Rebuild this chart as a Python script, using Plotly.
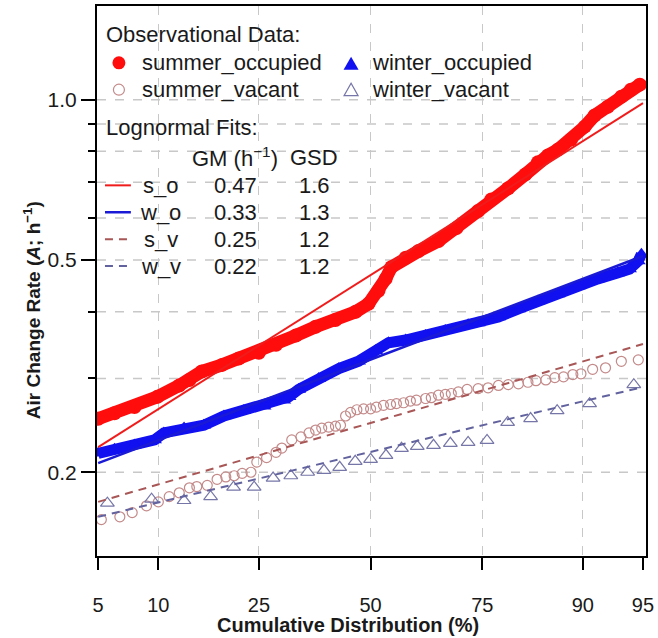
import math
import plotly.graph_objects as go
from statistics import NormalDist

# ---------------- data ----------------
tick_pct = [5, 10, 25, 50, 75, 90, 95]
grid_pct = [10, 25, 50, 75, 90]
y_major = [0.2, 0.5, 1.0]
y_major_text = ["0.2", "0.5", "1.0"]
y_minor = [0.3, 0.4, 0.6, 0.7, 0.8, 0.9]

so_pct = [5.0, 6.1, 7.7, 9.9, 12.4, 13.7, 15.4, 18.5, 21.3, 25.0, 28.4, 32.6, 37.0, 41.6,
          46.4, 49.5, 51.9, 53.6, 55.0, 58.4, 61.4, 65.9, 69.8, 74.2, 76.7, 79.7, 82.5,
          84.4, 85.8, 87.1, 88.7, 90.2, 91.2, 92.4, 93.5, 94.2, 94.8]
so_val = [0.252, 0.258, 0.265, 0.277, 0.291, 0.298, 0.309, 0.318, 0.327, 0.335, 0.347,
          0.361, 0.375, 0.386, 0.400, 0.414, 0.438, 0.461, 0.485, 0.505, 0.520, 0.543,
          0.574, 0.618, 0.650, 0.682, 0.724, 0.763, 0.786, 0.806, 0.842, 0.890, 0.934,
          0.970, 1.013, 1.044, 1.067]

wo_pct = [5.0, 6.1, 7.7, 9.6, 10.6, 13.0, 15.7, 18.8, 22.2, 26.0, 30.0, 31.1, 33.2, 37.7,
          42.4, 47.1, 51.2, 54.3, 58.4, 63.0, 67.4, 72.2, 74.2, 78.0, 81.4, 84.4, 87.1,
          89.5, 91.5, 93.2, 94.1, 94.7, 94.9]
wo_val = [0.217, 0.221, 0.225, 0.230, 0.237, 0.242, 0.245, 0.255, 0.261, 0.266, 0.273,
          0.277, 0.286, 0.300, 0.313, 0.323, 0.338, 0.350, 0.354, 0.361, 0.369, 0.378,
          0.381, 0.391, 0.405, 0.419, 0.432, 0.447, 0.461, 0.473, 0.481, 0.498, 0.513]

sv_pct = [5.2, 6.5, 7.5, 8.8, 10.0, 11.2, 12.4, 13.7, 14.7, 16.2, 17.7, 19.1, 20.5, 21.9,
          23.5, 24.6, 26.5, 28.4, 29.6, 31.7, 33.7, 35.5, 37.0, 38.4, 40.0, 41.6, 42.8,
          44.0, 45.2, 46.7, 48.3, 50.0, 51.4, 53.1, 54.8, 56.2, 57.9, 59.5, 60.9, 63.0,
          64.3, 65.9, 67.4, 68.7, 70.2, 72.0, 74.2, 76.1, 78.0, 79.7, 81.4, 82.9, 84.1,
          85.5, 86.7, 87.8, 88.9, 89.8, 91.0, 92.2, 93.5, 94.7]
sv_val = [0.163, 0.165, 0.168, 0.173, 0.176, 0.180, 0.183, 0.187, 0.188, 0.189, 0.194,
          0.196, 0.197, 0.199, 0.200, 0.209, 0.213, 0.218, 0.222, 0.230, 0.233, 0.237,
          0.240, 0.242, 0.243, 0.244, 0.245, 0.255, 0.259, 0.262, 0.263, 0.263, 0.265,
          0.267, 0.268, 0.269, 0.270, 0.272, 0.273, 0.275, 0.276, 0.279, 0.280, 0.281,
          0.283, 0.286, 0.287, 0.288, 0.291, 0.292, 0.293, 0.295, 0.297, 0.298, 0.301,
          0.302, 0.305, 0.306, 0.312, 0.314, 0.323, 0.325]

wv_pct = [5.6, 9.3, 13.0, 16.7, 20.4, 24.1, 27.8, 31.5, 35.2, 38.9, 42.6, 46.3, 50.0,
          53.7, 57.4, 61.1, 64.8, 68.5, 72.2, 75.9, 79.6, 83.3, 87.0, 90.7, 94.4]
wv_val = [0.175, 0.178, 0.177, 0.180, 0.1875, 0.1875, 0.195, 0.197, 0.200, 0.2017, 0.2043,
          0.2097, 0.2115, 0.2152, 0.2218, 0.2237, 0.2247, 0.2266, 0.2275, 0.2295, 0.248,
          0.2522, 0.261, 0.269, 0.292]

fit_pct = [5, 95]
fit_so = [0.223, 0.985]
fit_wo = [0.208, 0.509]
fit_sv = [0.176, 0.348]
fit_wv = [0.165, 0.289]

fit_names = ["s_o", "w_o", "s_v", "w_v"]
fit_gm = ["0.47", "0.33", "0.25", "0.22"]
fit_gsd = ["1.6", "1.3", "1.2", "1.2"]

# ---------------- styling ----------------
C_SO = "#ff0d0d"
C_WO = "#1010f0"
C_SV = "#c48a8a"
C_WV = "#7676a8"
C_FSO = "#f01c1c"
C_FWO = "#1a1ad6"
C_FSV = "#a85656"
C_FWV = "#62629e"
TXT = "#1a1a1a"
FONT = "Arial"
DASH = "8px,6px"
GRID = "#c8c8c8"

_nd = NormalDist()


def zq(p):
    """probability-scale transform of a cumulative percentage"""
    return _nd.inv_cdf(p / 100.0)


def lg(v):
    """log10 transform for the logarithmic value axis"""
    return math.log10(v)


W, H = 658, 638
L, R, T, B = 97, 10, 4, 82
PW = W - L - R
PH = H - T - B


def px(xp):
    return (xp - L) / PW


def py(yp):
    return (H - B - yp) / PH


fig = go.Figure()

fig.add_trace(go.Scatter(x=[zq(p) for p in so_pct], y=[lg(v) for v in so_val],
                         mode="lines+markers", line=dict(color=C_SO, width=13),
                         marker=dict(symbol="circle", size=14, color=C_SO),
                         name="summer_occupied", showlegend=False))
fig.add_trace(go.Scatter(x=[zq(p) for p in wo_pct], y=[lg(v) for v in wo_val],
                         mode="lines+markers", line=dict(color=C_WO, width=11),
                         marker=dict(symbol="triangle-up", size=13, color=C_WO),
                         name="winter_occupied", showlegend=False))
fig.add_trace(go.Scatter(x=[zq(p) for p in sv_pct], y=[lg(v) for v in sv_val],
                         mode="markers",
                         marker=dict(symbol="circle-open", size=10, color=C_SV,
                                     line=dict(width=1.2, color=C_SV)),
                         name="summer_vacant", showlegend=False))
fig.add_trace(go.Scatter(x=[zq(p) for p in wv_pct], y=[lg(v) for v in wv_val],
                         mode="markers",
                         marker=dict(symbol="triangle-up-open", size=12, color=C_WV,
                                     line=dict(width=1.2, color=C_WV)),
                         name="winter_vacant", showlegend=False))

for vals, col, dash, wid, nm in [(fit_so, C_FSO, "solid", 2, "s_o"),
                                 (fit_wo, C_FWO, "solid", 2.5, "w_o"),
                                 (fit_sv, C_FSV, DASH, 2, "s_v"),
                                 (fit_wv, C_FWV, DASH, 2, "w_v")]:
    fig.add_trace(go.Scatter(x=[zq(p) for p in fit_pct], y=[lg(v) for v in vals],
                             mode="lines", line=dict(color=col, width=wid, dash=dash),
                             name=nm, showlegend=False))

# ---------------- legend (annotations + glyph shapes) ----------------
ann = []


def text(t, x, y, anchor="left", size=22):
    ann.append(dict(x=px(x), y=py(y), xref="paper", yref="paper", text=t, showarrow=False,
                    xanchor=anchor, yanchor="middle",
                    font=dict(family=FONT, size=size, color=TXT)))


text("Observational Data:", 104, 33)
text("summer_occupied", 140, 61)
text("summer_vacant", 140, 88)
text("winter_occupied", 371, 61)
text("winter_vacant", 371, 88)
text("Lognormal Fits:", 104, 126)
text("GM (h<sup>−1</sup>)", 236, 156, "center")
text("GSD", 315, 156, "center")
row_y = [184, 211, 238, 265]
for nm, gm, gsd, yy in zip(fit_names, fit_gm, fit_gsd, row_y):
    text(nm, 161, yy, "center")
    text(gm, 236, yy, "center")
    text(gsd, 315, yy, "center")

# axis titles
ann.append(dict(x=px(349), y=py(625), xref="paper", yref="paper",
                text="<b>Cumulative Distribution (%)</b>", showarrow=False,
                xanchor="center", yanchor="middle",
                font=dict(family=FONT, size=20, color=TXT)))
ann.append(dict(x=px(32), y=py(309), xref="paper", yref="paper",
                text="<b>Air Change Rate (<i>A</i>; h<sup>−1</sup>)</b>", showarrow=False,
                textangle=-90, xanchor="center", yanchor="middle",
                font=dict(family=FONT, size=19, color=TXT)))

shapes = []
# horizontal grid lines at every value-axis tick
for v in y_major + y_minor:
    shapes.append(dict(type="line", xref="paper", yref="y", x0=0, x1=1,
                       y0=lg(v), y1=lg(v), layer="between",
                       line=dict(color=GRID, width=1.5, dash="dash")))
# glyphs
shapes.append(dict(type="circle", xref="paper", yref="paper", xsizemode="pixel",
                   ysizemode="pixel", xanchor=px(119), yanchor=py(61),
                   x0=-6.5, x1=6.5, y0=-6.5, y1=6.5, fillcolor=C_SO, line=dict(width=0)))
shapes.append(dict(type="circle", xref="paper", yref="paper", xsizemode="pixel",
                   ysizemode="pixel", xanchor=px(119), yanchor=py(88),
                   x0=-5.5, x1=5.5, y0=-5.5, y1=5.5, line=dict(width=1.2, color=C_SV)))
shapes.append(dict(type="path", xref="paper", yref="paper", xsizemode="pixel",
                   ysizemode="pixel", xanchor=px(352), yanchor=py(62),
                   path="M -7.5,-6 L 7.5,-6 L 0,7 Z", fillcolor=C_WO, line=dict(width=0)))
shapes.append(dict(type="path", xref="paper", yref="paper", xsizemode="pixel",
                   ysizemode="pixel", xanchor=px(352), yanchor=py(88),
                   path="M -7,-6 L 7,-6 L 0,6.5 Z", line=dict(width=1.2, color=C_WV)))
for yy, col, dash, wid in zip(row_y, [C_FSO, C_FWO, C_FSV, C_FWV],
                              ["solid", "solid", DASH, DASH], [2, 2.5, 2, 2]):
    shapes.append(dict(type="line", xref="paper", yref="paper", x0=px(105), x1=px(131),
                       y0=py(yy), y1=py(yy), line=dict(color=col, width=wid, dash=dash)))

fig.update_layout(
    width=W, height=H,
    margin=dict(l=L, r=R, t=T, b=B, pad=0),
    paper_bgcolor="white", plot_bgcolor="white",
    annotations=ann, shapes=shapes,
    showlegend=False,
    xaxis=dict(range=[-1.652, 1.663], tickmode="array",
               tickvals=[zq(p) for p in tick_pct], ticktext=[str(p) for p in tick_pct],
               showgrid=False, zeroline=False,
               showline=True, linewidth=2, linecolor="black", mirror=True,
               ticks="outside", ticklen=12, tickwidth=2, tickcolor="black",
               ticklabelstandoff=18,
               tickfont=dict(family=FONT, size=20, color=TXT),
               minor=dict(tickmode="array", tickvals=[zq(p) for p in grid_pct],
                          ticks="", showgrid=True, gridcolor=GRID, griddash="dash",
                          gridwidth=1)),
    yaxis=dict(range=[-0.8561, 0.1757], tickmode="array",
               tickvals=[lg(v) for v in y_major], ticktext=y_major_text,
               showgrid=False, zeroline=False,
               showline=True, linewidth=2, linecolor="black", mirror=True,
               ticks="outside", ticklen=14, tickwidth=2, tickcolor="black",
               tickfont=dict(family=FONT, size=21, color=TXT),
               minor=dict(tickmode="array", tickvals=[lg(v) for v in y_minor],
                          ticks="outside", ticklen=7, tickwidth=2, tickcolor="black",
                          showgrid=False)),
)

fig.write_html("out.html")
